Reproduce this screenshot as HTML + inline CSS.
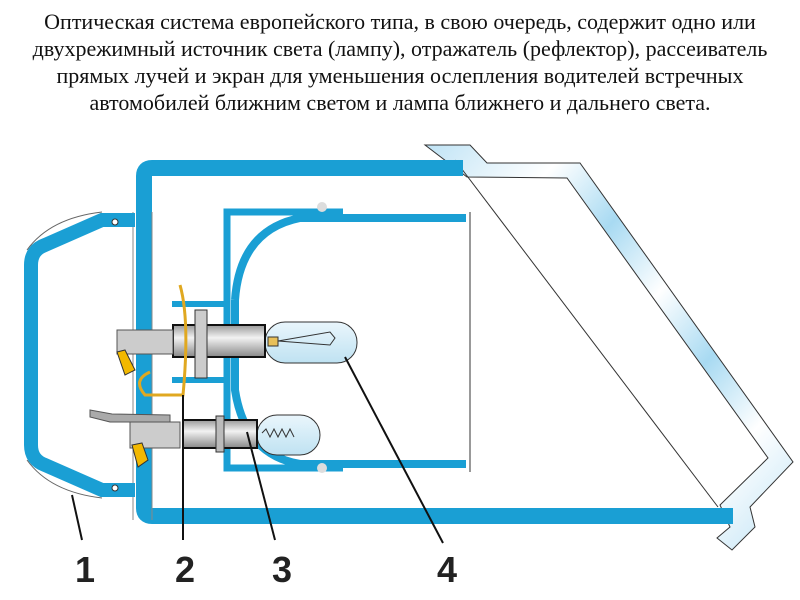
<!DOCTYPE html>
<html><head><meta charset="utf-8"><style>
body{margin:0;width:800px;height:600px;background:#fff;overflow:hidden;position:relative}
.t{position:absolute;left:0;top:8px;width:800px;text-align:center;font:22px/27px "Liberation Serif","Noto Serif CJK SC",serif;color:#111;white-space:nowrap}
svg{position:absolute;left:0;top:0}
</style></head><body>
<div class="t">Оптическая система европейского типа, в свою очередь, содержит одно или<br>двухрежимный источник света (лампу), отражатель (рефлектор), рассеиватель<br>прямых лучей и экран для уменьшения ослепления водителей встречных<br>автомобилей ближним светом и лампа ближнего и дальнего света.</div>
<svg width="800" height="600" viewBox="0 0 800 600">
<defs>
<linearGradient id="g" x1="0" y1="0" x2="1" y2="1">
<stop offset="0" stop-color="#bfe3f5"/><stop offset=".2" stop-color="#fff"/><stop offset=".35" stop-color="#a8daf2"/><stop offset=".5" stop-color="#fff"/><stop offset=".65" stop-color="#a8daf2"/><stop offset=".8" stop-color="#fff"/><stop offset="1" stop-color="#bfe3f5"/></linearGradient>
<linearGradient id="m" x1="0" y1="0" x2="0" y2="1"><stop offset="0" stop-color="#999"/><stop offset=".4" stop-color="#f2f2f2"/><stop offset="1" stop-color="#888"/></linearGradient>
<linearGradient id="b" x1="0" y1="0" x2="0" y2="1"><stop offset="0" stop-color="#eaf6fc"/><stop offset="1" stop-color="#bfe2f2"/></linearGradient>
</defs>
<path d="M425,145 L470,145 L487,163 L580,163 L793,462 L750,507 L755,527 L732,550 L717,538 L730,527 L720,505 L768,458 L567,178 L467,177 Z" fill="url(#g)" stroke="#333" stroke-width="1"/>
<line x1="455" y1="160" x2="718" y2="507" stroke="#333" stroke-width="1"/>
<path d="M463,168 L152,168 Q144,168 144,176 L144,508 Q144,516 152,516 L733,516" fill="none" stroke="#1a9fd4" stroke-width="16"/>
<line x1="133" y1="212" x2="133" y2="520" stroke="#888" stroke-width="1"/>
<line x1="152" y1="212" x2="152" y2="520" stroke="#888" stroke-width="1"/>
<path d="M135,220 L102,220 L45,245 Q31,250 31,265 L31,445 Q31,460 45,465 L102,490 L135,490" fill="none" stroke="#1a9fd4" stroke-width="14"/>
<path d="M102,212 Q50,218 27,250 M102,498 Q50,492 27,460" fill="none" stroke="#666" stroke-width="1"/>
<circle cx="115" cy="222" r="3" fill="#fff" stroke="#333"/><circle cx="115" cy="488" r="3" fill="#fff" stroke="#333"/>
<path d="M343,212 L227,212 L227,468 L343,468" fill="none" stroke="#1a9fd4" stroke-width="7"/>
<path d="M235,300 Q240,230 300,218 L466,218" fill="none" stroke="#1a9fd4" stroke-width="8"/>
<path d="M235,300 L235,390 Q245,455 300,464 L466,464" fill="none" stroke="#1a9fd4" stroke-width="8"/>
<line x1="470" y1="212" x2="470" y2="472" stroke="#333" stroke-width="1"/>
<path d="M172,304 L230,304 M172,380 L230,380" stroke="#1a9fd4" stroke-width="6"/>
<circle cx="322" cy="207" r="5" fill="#ddd"/><circle cx="322" cy="468" r="5" fill="#ddd"/>
<rect x="265" y="322" width="92" height="41" rx="20" fill="url(#b)" stroke="#333"/>
<rect x="268" y="337" width="10" height="9" fill="#e8c05a" stroke="#333"/>
<path d="M278,341 L330,332 L335,338 L330,345 L278,341" fill="none" stroke="#333"/>
<rect x="173" y="325" width="92" height="32" fill="url(#m)" stroke="#111" stroke-width="2"/>
<rect x="195" y="310" width="12" height="68" fill="#ccc" stroke="#333"/>
<rect x="117" y="330" width="56" height="24" fill="#ccc" stroke="#555"/>
<path d="M117,352 L125,350 L135,370 L125,375 Z" fill="#f2b800" stroke="#333"/>
<path d="M180,285 Q190,320 183,395 L145,395 Q132,380 150,372" fill="none" stroke="#e0a820" stroke-width="3"/>
<rect x="257" y="415" width="63" height="40" rx="20" fill="url(#b)" stroke="#333"/>
<path d="M262,433 l4,-4 l4,8 l4,-8 l4,8 l4,-8 l4,8 l4,-8 l4,8" fill="none" stroke="#333"/>
<rect x="183" y="420" width="74" height="28" fill="url(#m)" stroke="#111" stroke-width="2"/>
<rect x="216" y="416" width="8" height="36" fill="#bbb" stroke="#333"/>
<rect x="130" y="422" width="50" height="26" fill="#ccc" stroke="#555"/>
<path d="M90,410 L112,414 L170,415 L170,422 L110,422 L90,417 Z" fill="#aaa" stroke="#555"/>
<path d="M132,445 L142,443 L148,460 L138,467 Z" fill="#f2b800" stroke="#333"/>
<g stroke="#111" stroke-width="2">
<line x1="72" y1="495" x2="82" y2="540"/>
<line x1="183" y1="395" x2="183" y2="540"/>
<line x1="247" y1="432" x2="275" y2="540"/>
<line x1="345" y1="357" x2="443" y2="543"/>
</g>
<g font-family="Liberation Sans,sans-serif" font-weight="bold" font-size="36" fill="#222" text-anchor="middle">
<text x="85" y="582">1</text><text x="185" y="582">2</text><text x="282" y="582">3</text><text x="447" y="582">4</text>
</g>
</svg>
</body></html>
